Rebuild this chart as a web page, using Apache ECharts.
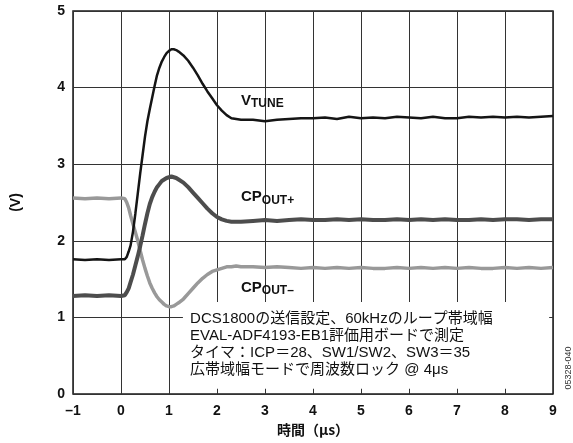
<!DOCTYPE html>
<html><head><meta charset="utf-8">
<script src="https://cdn.jsdelivr.net/npm/echarts@6/dist/echarts.min.js"></script>
<style>html,body{margin:0;padding:0;background:#fff}#c{width:573px;height:443px}</style>
</head><body><div id="c"></div>
<script>
const timeUs = [-1,-0.75,-0.5,-0.25,0,0.08,0.12,0.16,0.2,0.25,0.3,0.35,0.4,0.45,0.5,0.55,0.6,0.65,0.7,0.75,0.8,0.85,0.9,0.95,1.0,1.05,1.1,1.15,1.2,1.3,1.4,1.5,1.6,1.7,1.8,1.9,2.0,2.1,2.2,2.3,2.4,2.5,2.75,3.0,3.25,3.5,3.75,4.0,4.25,4.5,4.75,5.0,5.25,5.5,5.75,6.0,6.25,6.5,6.75,7.0,7.25,7.5,7.75,8.0,8.25,8.5,8.75,9.0];
const vtune = [1.76,1.75,1.76,1.75,1.76,1.76,1.79,1.86,1.94,2.12,2.36,2.62,2.88,3.12,3.36,3.56,3.72,3.87,4.02,4.16,4.26,4.34,4.40,4.45,4.48,4.50,4.50,4.49,4.47,4.42,4.35,4.26,4.16,4.05,3.95,3.86,3.77,3.70,3.64,3.60,3.59,3.58,3.58,3.56,3.58,3.59,3.60,3.60,3.61,3.59,3.62,3.60,3.61,3.60,3.62,3.61,3.60,3.62,3.60,3.60,3.62,3.61,3.62,3.61,3.62,3.61,3.62,3.63];
const cpOutPlus = [1.28,1.29,1.28,1.29,1.28,1.29,1.33,1.38,1.46,1.56,1.68,1.80,1.93,2.07,2.22,2.36,2.48,2.57,2.64,2.70,2.74,2.78,2.80,2.82,2.83,2.84,2.83,2.82,2.80,2.76,2.70,2.63,2.56,2.49,2.42,2.36,2.31,2.28,2.26,2.25,2.25,2.25,2.26,2.27,2.26,2.27,2.28,2.27,2.27,2.28,2.27,2.28,2.27,2.27,2.28,2.27,2.28,2.27,2.28,2.27,2.27,2.28,2.27,2.28,2.28,2.27,2.28,2.28];
const cpOutMinus = [2.56,2.55,2.56,2.55,2.56,2.55,2.50,2.43,2.33,2.22,2.11,2.00,1.87,1.75,1.64,1.54,1.45,1.38,1.32,1.27,1.23,1.20,1.17,1.15,1.14,1.14,1.15,1.17,1.19,1.24,1.31,1.38,1.45,1.51,1.56,1.60,1.62,1.64,1.66,1.66,1.67,1.66,1.66,1.65,1.66,1.65,1.64,1.65,1.64,1.65,1.64,1.65,1.64,1.64,1.65,1.64,1.65,1.64,1.65,1.64,1.65,1.64,1.64,1.65,1.64,1.65,1.64,1.65];
const xTicks = {min:-1, max:9, interval:1};
const yTicks = {min:0, max:5, interval:1};
const noteLines = ['DCS1800の送信設定、60kHzのループ帯域幅','EVAL-ADF4193-EB1評価用ボードで測定','タイマ：ICP＝28、SW1/SW2、SW3＝35','広帯域幅モードで周波数ロック @ 4μs'];

const pair = a => timeUs.map((t,i)=>[t,a[i]]);
const lab = 'Liberation Sans, Arial, sans-serif';
const mixed = "'Liberation Sans', 'Noto Sans CJK JP', sans-serif";
const chart = echarts.init(document.getElementById('c'));
chart.setOption({
  animation:false,
  backgroundColor:'#fff',
  grid:{left:73,right:20,top:11,bottom:49,show:true,borderColor:'#1a1a1a',borderWidth:1.5,backgroundColor:'transparent'},
  xAxis:{type:'value',min:xTicks.min,max:xTicks.max,interval:xTicks.interval,
    axisLine:{show:false},axisTick:{show:false},
    splitLine:{show:true,lineStyle:{color:'#333',width:1}},
    axisLabel:{margin:10,color:'#111',fontFamily:lab,fontWeight:'bold',fontSize:14,formatter:v=>v<0?'–'+Math.abs(v):String(v)},
    name:'時間（μs）',nameLocation:'middle',nameGap:24,
    nameTextStyle:{color:'#111',fontFamily:'Noto Sans CJK JP',fontWeight:'bold',fontSize:14}},
  yAxis:{type:'value',min:yTicks.min,max:yTicks.max,interval:yTicks.interval,
    axisLine:{show:false},axisTick:{show:false},
    splitLine:{show:true,lineStyle:{color:'#333',width:1}},
    axisLabel:{margin:8,color:'#111',fontFamily:lab,fontWeight:'bold',fontSize:14},
    name:'(V)',nameLocation:'middle',nameGap:50,nameRotate:90,
    nameTextStyle:{color:'#111',fontFamily:lab,fontWeight:'bold',fontSize:14}},
  series:[
    {type:'line',data:pair(cpOutMinus),showSymbol:false,lineStyle:{color:'#999',width:3.5},z:3},
    {type:'line',data:pair(cpOutPlus),showSymbol:false,lineStyle:{color:'#4d4d4d',width:4},z:4},
    {type:'line',data:pair(vtune),showSymbol:false,lineStyle:{color:'#151515',width:2.5},z:5}
  ]
});
const P = (x,y)=>chart.convertToPixel({gridIndex:0},[x,y]);
const b1 = P(1.29,1.2), b2 = P(8.92,0.07);
const lbl = (main, sub, at) => ({type:'text', x:at[0], y:at[1], z:20,
  style:{text:'{m|'+main+'}{s|'+sub+'}', fill:'#111', verticalAlign:'top',
    rich:{m:{fontSize:15,fontWeight:'bold',fontFamily:lab,verticalAlign:'top',lineHeight:15,fill:'#111'},
          s:{fontSize:12,fontWeight:'bold',fontFamily:lab,verticalAlign:'top',lineHeight:12,padding:[5,0,0,0],fill:'#111'}}}});
const nt = P(1.44,1.10);
chart.setOption({graphic:[
  {type:'rect',z:1,shape:{x:b1[0],y:b1[1],width:b2[0]-b1[0],height:b2[1]-b1[1]},style:{fill:'#fff'}},
  {type:'text',z:20,x:nt[0],y:nt[1],style:{text:noteLines.join('\n'),fill:'#111',fontSize:15,lineHeight:17.3,fontFamily:mixed,verticalAlign:'top'}},
  lbl('V','TUNE',P(2.5,3.93)),
  lbl('CP','OUT+',P(2.5,2.67)),
  lbl('CP','OUT–',P(2.5,1.49)),
  {type:'text',z:20,x:569,y:368,rotation:Math.PI/2,style:{text:'05328-040',fill:'#333',fontSize:9,fontFamily:lab,align:'center',verticalAlign:'middle'}}
]});
</script></body></html>
